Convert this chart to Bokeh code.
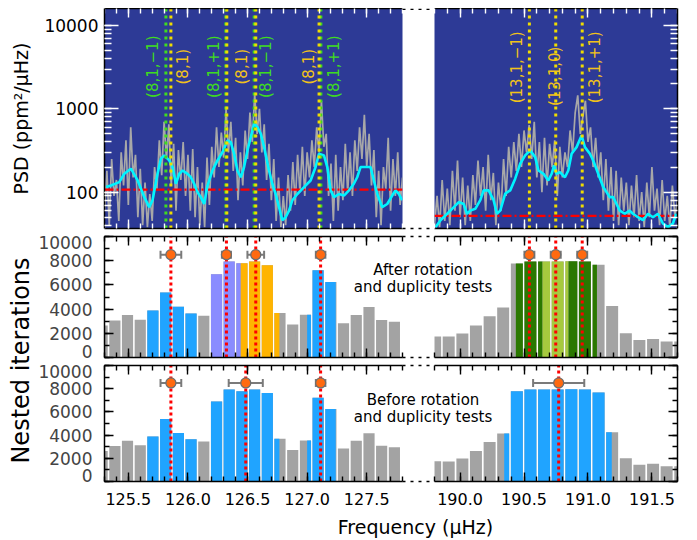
import math
import numpy as np
from bokeh.plotting import figure
from bokeh.models import (Range1d, LinearAxis, LogAxis, SingleIntervalTicker, LogTicker,
                          FixedTicker, PrintfTickFormatter, CustomJSTickFormatter)
from bokeh.core.properties import value
from bokeh.embed import file_html
from bokeh.resources import INLINE

# ---------------- data: power spectral density (top panels) ----------------
PSD_STEP = 0.02
PSD_LEFT_START = 125.30
PSD_RIGHT_START = 189.80
psd_left = [60, 180, 40, 250, 90, 140, 45, 300, 120, 420,
            70, 600, 150, 280, 50, 190, 40, 130, 38, 95,
            45, 200, 110, 420, 160, 700, 250, 650, 120, 380,
            60, 320, 140, 400, 90, 280, 60, 330, 50, 200,
            40, 130, 38, 260, 70, 350, 150, 600, 200, 520,
            260, 1000, 300, 700, 180, 450, 80, 300, 120, 550,
            250, 900, 400, 1500, 500, 1000, 300, 650, 140, 380,
            80, 250, 45, 150, 38, 90, 40, 160, 60, 230,
            70, 280, 100, 350, 90, 300, 150, 420, 200, 600,
            300, 1250, 350, 500, 90, 220, 45, 280, 60, 200,
            80, 380, 100, 300, 90, 420, 180, 600, 250, 850,
            200, 500, 120, 320, 50, 180, 40, 200, 110, 450,
            60, 250, 90, 300, 70, 150]
psd_right = [40, 90, 38, 140, 45, 110, 40, 180, 60, 240,
             50, 150, 40, 120, 45, 160, 70, 240, 90, 200,
             60, 280, 80, 170, 40, 130, 60, 250, 90, 350,
             150, 400, 180, 500, 200, 550, 300, 640, 250, 700,
             150, 400, 100, 450, 120, 380, 200, 420, 90, 350,
             150, 300, 200, 550, 300, 900, 1450, 500, 800, 1250,
             400, 600, 200, 450, 150, 300, 80, 250, 60, 200,
             45, 180, 40, 150, 60, 130, 40, 120, 50, 160,
             45, 100, 38, 130, 50, 200, 60, 110, 40, 140,
             45, 90, 38, 120, 50, 80]

smooth_left_freq = [125.313, 125.354, 125.424, 125.466, 125.522, 125.578, 125.606, 125.634,
                    125.675, 125.703, 125.745, 125.773, 125.801, 125.843, 125.871, 125.899,
                    125.927, 125.955, 125.997, 126.024, 126.052, 126.080, 126.108, 126.136,
                    126.164, 126.206, 126.248, 126.290, 126.332, 126.359, 126.387, 126.415,
                    126.443, 126.471, 126.499, 126.527, 126.555, 126.583, 126.611, 126.639,
                    126.680, 126.708, 126.736, 126.764, 126.792, 126.820, 126.848, 126.876,
                    126.918, 126.974, 127.029, 127.071, 127.099, 127.141, 127.169, 127.197,
                    127.225, 127.267, 127.309, 127.351, 127.392, 127.420, 127.448, 127.490,
                    127.532, 127.560, 127.588, 127.630, 127.672, 127.714, 127.741, 127.769,
                    127.797]
smooth_left = [115, 120, 132, 166, 191, 138, 110, 87,
               66, 80, 166, 252, 276, 240, 200, 126,
               166, 182, 166, 151, 126, 100, 87, 72,
               120, 182, 240, 302, 417, 399, 289, 182,
               151, 200, 317, 458, 662, 603, 502, 347,
               182, 126, 95, 66, 46, 50, 60, 80,
               95, 115, 138, 200, 289, 276, 200, 105,
               87, 95, 91, 105, 126, 151, 200, 200,
               200, 138, 95, 66, 72, 91, 105, 95,
               80]
smooth_right_freq = [189.808, 189.847, 189.899, 189.951, 189.990, 190.028, 190.054, 190.080,
                     190.119, 190.158, 190.184, 190.223, 190.262, 190.288, 190.314, 190.353,
                     190.392, 190.431, 190.470, 190.509, 190.548, 190.587, 190.613, 190.652,
                     190.690, 190.716, 190.735, 190.755, 190.781, 190.820, 190.846, 190.872,
                     190.911, 190.950, 190.976, 191.015, 191.041, 191.080, 191.119, 191.145,
                     191.171, 191.197, 191.223, 191.249, 191.288, 191.326, 191.352, 191.391,
                     191.430, 191.469, 191.508, 191.547, 191.586, 191.625, 191.664, 191.690]
smooth_right = [38, 46, 55, 66, 76, 72, 55, 60,
                63, 80, 105, 105, 80, 55, 60, 96,
                105, 145, 219, 276, 317, 263, 182, 166,
                138, 166, 209, 166, 174, 151, 182, 289,
                347, 479, 347, 289, 240, 166, 115, 100,
                87, 87, 72, 60, 55, 60, 55, 50,
                46, 55, 50, 55, 42, 38, 42, 55]
background_left = 107
background_right = 52

green_modes_left = [125.815, 126.318, 126.556, 127.115]
yellow_modes_left = [125.857, 126.326, 126.569, 127.100]
yellow_modes_right = [190.542, 190.748, 190.955]

mode_labels_left = ["(8,1,\u22121)", "(8,1)", "(8,1,+1)", "(8,1)", "(8,1,\u22121)", "(8,1)", "(8,1,+1)"]
mode_label_left_x = [125.704, 125.955, 126.220, 126.457, 126.653, 127.015, 127.225]
mode_label_left_y = [3200, 3200, 3200, 3200, 3200, 3200, 3200]
mode_label_left_kind = ["g", "y", "g", "y", "g", "y", "g"]
mode_labels_right = ["(13,1,\u22121)", "(13,1,0)", "(13,1,+1)"]
mode_label_right_x = [190.444, 190.742, 191.054]
mode_label_right_y = [3150, 2460, 3150]

# ---------------- data: nested-sampling histograms ----------------
BIN_WIDTH = 0.1066
hist_left_centers = [125.280, 125.387, 125.493, 125.600, 125.706, 125.813, 125.920, 126.026,
                     126.133, 126.240, 126.346, 126.453, 126.559, 126.666, 126.772, 126.879,
                     126.986, 127.092, 127.199, 127.305, 127.412, 127.519, 127.625, 127.732]
hist_left_counts = [2640, 3050, 3510, 3120, 3880, 5380, 4190, 3640,
                    3450, 6890, 7930, 7790, 7930, 7630, 3680, 2720,
                    3530, 7210, 6240, 2840, 3510, 4170, 3090, 2960]
hist_right_centers = [189.805, 189.911, 190.018, 190.124, 190.231, 190.337, 190.444, 190.550,
                      190.657, 190.763, 190.870, 190.976, 191.083, 191.189, 191.296, 191.402,
                      191.509, 191.615, 191.722]
hist_right_counts = [1740, 1730, 1980, 2640, 3400, 4130, 7770, 7930,
                     7940, 7930, 7950, 7930, 7670, 4250, 2000, 1440,
                     1520, 1320, 1320]

after_left_lo = [125.655, 126.192, 126.443, 127.000]
after_left_hi = [126.075, 126.443, 126.767, 127.240]
after_left_kind = ["blue", "purple", "orange", "blue"]
before_left_lo = [125.655, 126.192, 127.000]
before_left_hi = [126.075, 126.767, 127.240]
before_left_kind = ["blue", "blue", "blue"]
after_right_lo = [190.436, 190.645, 190.848]
after_right_hi = [190.645, 190.848, 191.070]
after_right_kind = ["dkgreen", "ltgreen", "dkgreen"]
before_right_lo = [190.345]
before_right_hi = [191.186]
before_right_kind = ["blue"]

after_left_freq = [125.857, 126.323, 126.569, 127.113]
after_left_err = [0.087, 0.038, 0.070, 0.040]
before_left_freq = [125.857, 126.485, 127.113]
before_left_err = [0.087, 0.143, 0.040]
after_right_freq = [190.542, 190.748, 190.955]
after_right_err = [0.039, 0.039, 0.039]
before_right_freq = [190.771]
before_right_err = [0.200]
MARKER_LEVEL = 8500

# ---------------- styling ----------------
FONT = "DejaVu Sans"
BLUE_BG = "#2d3a96"
SPEC_GRAY = "#a8a8a8"
CYAN = "#00f4ff"
GREEN = "#3fdc1e"
YELLOW_LINE = "#f0dc00"
YELLOW_TEXT = "#f2c31a"
BAR_GRAY = "#a3a3a3"
REGION_COLORS = {"blue": "#20a4ff", "purple": "#8a8cff", "orange": "#ffb400",
                 "dkgreen": "#2a7800", "ltgreen": "#a6c93e"}
MARK_FILL = "#ff6a10"
MARK_LINE = "#6e6e6e"
ERR_COLOR = "#7a7a7a"
BAR_FILL = 0.88
LABEL_INSET = 500

W, H = 681, 524
H_OVERLAY = 531
XL = (96, 394)
XR = (426, 669)
ROW_TOP = (0, 220)
ROW_MID = (228, 349)
ROW_BOT = (357, 473)
PSD_RANGE = (36.6, 16000)
HIST_RANGE = (0, 10000)
PAGE_POS = {"position": "absolute", "left": "8px", "top": "8px"}


def base_fig(xs, ys, xr, yr, log=False, bg=None):
    p = figure(width=W, height=H, x_range=xr, y_range=yr,
               y_axis_type="log" if log else "linear",
               x_axis_location=None, y_axis_location=None,
               min_border_left=xs[0], min_border_right=W - xs[1],
               min_border_top=ys[0], min_border_bottom=H - ys[1],
               output_backend="svg", toolbar_location=None,
               border_fill_alpha=0, outline_line_color=None)
    p.grid.visible = False
    if bg is None:
        p.background_fill_alpha = 0
    else:
        p.background_fill_color = bg
    p.styles = dict(PAGE_POS)
    return p


def style(ax, tick_color, major, minor, labels=False, size="16px", standoff=6):
    ax.major_tick_in = major
    ax.major_tick_out = 0
    ax.minor_tick_in = minor
    ax.minor_tick_out = 0
    ax.major_tick_line_color = tick_color
    ax.minor_tick_line_color = tick_color
    ax.major_tick_line_width = 1.4
    ax.minor_tick_line_width = 1.4
    ax.axis_line_color = "black"
    ax.axis_line_width = 1.5
    if labels:
        ax.major_label_text_font = FONT
        ax.major_label_text_font_size = size
        ax.major_label_text_color = "black"
        ax.major_label_standoff = standoff
    else:
        ax.formatter = CustomJSTickFormatter(code="return ''")
        ax.major_label_text_font_size = "0px"
        ax.major_label_standoff = 0
    return ax


def xaxis(p, loc, tick_color, labels=False):
    ax = LinearAxis(ticker=SingleIntervalTicker(interval=0.5, num_minor_ticks=5))
    if labels:
        ax.formatter = PrintfTickFormatter(format="%.1f")
    style(ax, tick_color, 9, 5, labels, "16px", 11)
    p.add_layout(ax, loc)


def psd_panel(xs, xr, start, vals, sfreq, svals, bg, greens, yellows,
              lab_x, lab_y, lab_txt, lab_col, side):
    p = base_fig(xs, ROW_TOP, xr, Range1d(*PSD_RANGE), log=True, bg=BLUE_BG)
    ya = LogAxis(ticker=LogTicker(num_minor_ticks=10))
    if side == "left":
        ya.formatter = PrintfTickFormatter(format="%d")
    style(ya, "white", 14, 7, side == "left", "17px", 6)
    p.add_layout(ya, side)
    xaxis(p, "below", "white")
    xaxis(p, "above", "white")
    freq = start + PSD_STEP * np.arange(len(vals))
    p.line(freq, vals, line_color=SPEC_GRAY, line_width=1.7)
    p.line([xr.start, xr.end], [bg, bg], line_color="red", line_width=2.2, line_dash="9 3 2 3")
    p.line(sfreq, svals, line_color=CYAN, line_width=2.6)
    if greens:
        p.segment(x0=greens, x1=greens, y0=[PSD_RANGE[0]] * len(greens), y1=[PSD_RANGE[1]] * len(greens),
                  line_color=GREEN, line_width=3, line_dash="3 4")
    p.segment(x0=yellows, x1=yellows, y0=[PSD_RANGE[0]] * len(yellows), y1=[PSD_RANGE[1]] * len(yellows),
              line_color=YELLOW_LINE, line_width=3, line_dash="3 4")
    p.text(x=lab_x, y=lab_y, text=lab_txt, text_color=lab_col, angle=math.pi / 2,
           text_font=value(FONT), text_font_size="15px",
           text_align="center", text_baseline="middle")
    return p


def hist_panel(xs, ys, xr, centers, counts, lo, hi, kind, modes, errs, side, bottom_labels):
    p = base_fig(xs, ys, xr, Range1d(*HIST_RANGE))
    ya = LinearAxis(ticker=SingleIntervalTicker(interval=2000, num_minor_ticks=2))
    style(ya, "black", 9, 5, False)
    p.add_layout(ya, side)
    xaxis(p, "below", "black", bottom_labels)
    xaxis(p, "above", "black")
    half = BIN_WIDTH * BAR_FILL / 2
    p.quad(left=[c - half for c in centers], right=[c + half for c in centers],
           bottom=0, top=counts, fill_color=BAR_GRAY, line_color=None)
    L, R, T, C = [], [], [], []
    for a, b, k in zip(lo, hi, kind):
        for c, n in zip(centers, counts):
            l, r = max(c - half, a), min(c + half, b)
            if r > l:
                L.append(l); R.append(r); T.append(n); C.append(REGION_COLORS[k])
    p.quad(left=L, right=R, bottom=0, top=T, fill_color=C, line_color=None)
    n = len(modes)
    p.segment(x0=modes, x1=modes, y0=[HIST_RANGE[0]] * n, y1=[HIST_RANGE[1]] * n,
              line_color="red", line_width=3, line_dash="3 3")
    elo = [m - e for m, e in zip(modes, errs)]
    ehi = [m + e for m, e in zip(modes, errs)]
    p.segment(x0=elo, x1=ehi, y0=[MARKER_LEVEL] * n, y1=[MARKER_LEVEL] * n,
              line_color=ERR_COLOR, line_width=2)
    p.scatter(x=elo + ehi, y=[MARKER_LEVEL] * (2 * n), marker="dash", angle=math.pi / 2,
              size=8, line_color=ERR_COLOR, line_width=2)
    p.scatter(x=modes, y=[MARKER_LEVEL] * n, size=10, fill_color=MARK_FILL,
              line_color=MARK_LINE, line_width=1.3)
    return p


def label_layer(xs, ys, xr):
    # tick labels of the count axis, with the end labels kept inside the panel
    p = base_fig(xs, ys, xr, Range1d(*HIST_RANGE))
    ticks = [HIST_RANGE[0] + LABEL_INSET, 2000, 4000, 6000, 8000, HIST_RANGE[1] - LABEL_INSET]
    ax = LinearAxis(ticker=FixedTicker(ticks=ticks),
                    major_label_overrides={ticks[0]: "0", ticks[-1]: "10000"})
    ax.axis_line_color = None
    ax.major_tick_line_color = None
    ax.minor_tick_line_color = None
    ax.major_label_text_font = FONT
    ax.major_label_text_font_size = "17px"
    ax.major_label_standoff = 6
    p.add_layout(ax, "left")
    p.grid.visible = False
    return p


xl = lambda: Range1d(125.3, 127.8)
xrr = lambda: Range1d(189.8, 191.7)

figs = []
figs.append(psd_panel(XL, xl(), PSD_LEFT_START, psd_left, smooth_left_freq, smooth_left,
                      background_left, green_modes_left, yellow_modes_left,
                      mode_label_left_x, mode_label_left_y, mode_labels_left,
                      [GREEN if k == "g" else YELLOW_TEXT for k in mode_label_left_kind], "left"))
figs.append(psd_panel(XR, xrr(), PSD_RIGHT_START, psd_right, smooth_right_freq, smooth_right,
                      background_right, [], yellow_modes_right,
                      mode_label_right_x, mode_label_right_y, mode_labels_right,
                      [YELLOW_TEXT] * 3, "right"))
figs.append(hist_panel(XL, ROW_MID, xl(), hist_left_centers, hist_left_counts,
                       after_left_lo, after_left_hi, after_left_kind,
                       after_left_freq, after_left_err, "left", False))
figs.append(hist_panel(XR, ROW_MID, xrr(), hist_right_centers, hist_right_counts,
                       after_right_lo, after_right_hi, after_right_kind,
                       after_right_freq, after_right_err, "right", False))
figs.append(hist_panel(XL, ROW_BOT, xl(), hist_left_centers, hist_left_counts,
                       before_left_lo, before_left_hi, before_left_kind,
                       before_left_freq, before_left_err, "left", True))
figs.append(hist_panel(XR, ROW_BOT, xrr(), hist_right_centers, hist_right_counts,
                       before_right_lo, before_right_hi, before_right_kind,
                       before_right_freq, before_right_err, "right", True))
figs.append(label_layer(XL, ROW_MID, xl()))
figs.append(label_layer(XL, ROW_BOT, xl()))

# overlay with titles, panel captions and the broken-axis marks
ov = figure(width=W, height=H_OVERLAY, x_range=Range1d(0, W), y_range=Range1d(H_OVERLAY, 0),
            x_axis_location=None, y_axis_location=None, min_border=0,
            output_backend="svg", toolbar_location=None,
            background_fill_alpha=0, border_fill_alpha=0, outline_line_color=None)
ov.grid.visible = False
ov.styles = dict(PAGE_POS)
gap_y = [0.8, ROW_TOP[1], ROW_MID[0], ROW_MID[1], ROW_BOT[0], ROW_BOT[1]]
ov.segment(x0=[XL[1]] * 6, x1=[XR[0]] * 6, y0=gap_y, y1=gap_y,
           line_color="black", line_width=1.5, line_dash="3 5")
ov.text(x=[12], y=[110], text=["PSD (ppm\u00b2/\u03bcHz)"], angle=math.pi / 2,
        text_font=value(FONT), text_font_size="19px", text_align="center", text_baseline="middle",
        text_color="black")
ov.text(x=[12], y=[352], text=["Nested iterations"], angle=math.pi / 2,
        text_font=value(FONT), text_font_size="24px", text_align="center", text_baseline="middle",
        text_color="black")
ov.text(x=[414.5, 414.5, 414.5, 414.5], y=[261, 278, 391, 408],
        text=["After rotation", "and duplicity tests", "Before rotation", "and duplicity tests"],
        text_font=value(FONT), text_font_size="15px", text_align="center", text_baseline="middle",
        text_color="black")
ov.text(x=[407], y=[518], text=["Frequency (\u03bcHz)"],
        text_font=value(FONT), text_font_size="19px", text_align="center", text_baseline="middle",
        text_color="black")
figs.append(ov)

# every layer is an independent root placed on the same page area
open("out.html", "w").write(file_html(figs, INLINE))
